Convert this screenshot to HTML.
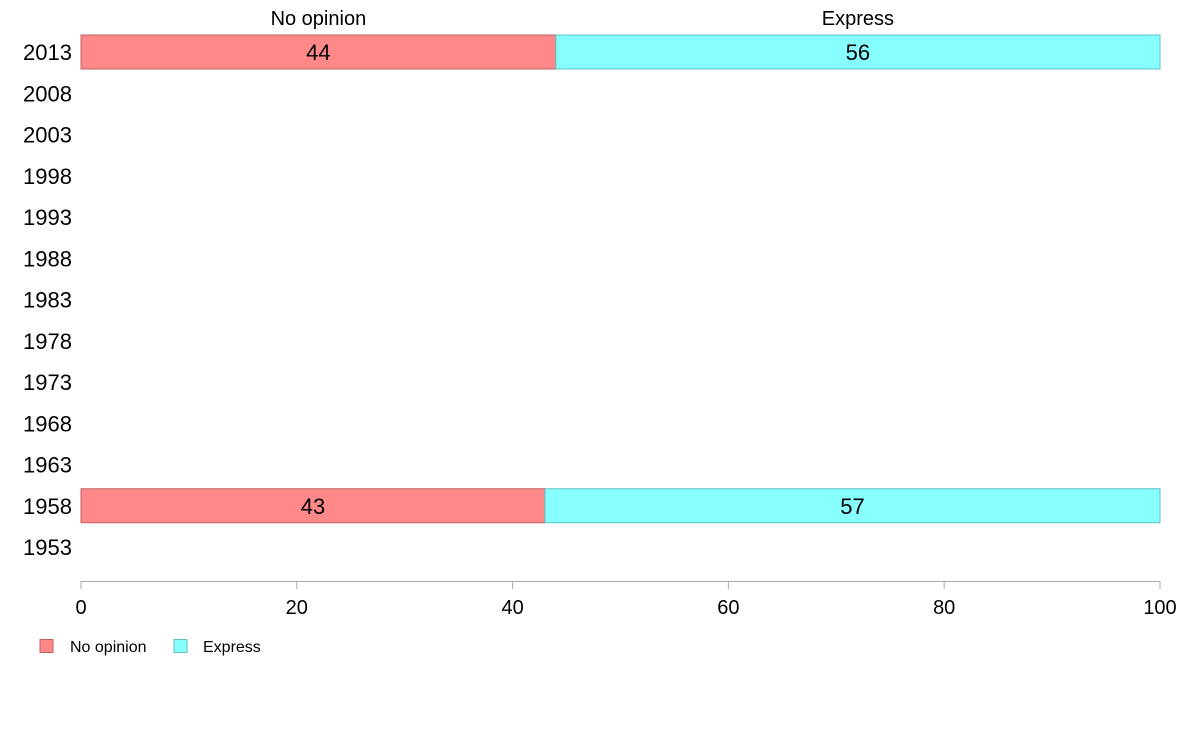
<!DOCTYPE html>
<html><head><meta charset="utf-8"><style>
body{margin:0;background:#fff;font-family:"Liberation Sans",Arial,sans-serif}
</style></head><body>
<svg id="chart" width="1188" height="736" xmlns="http://www.w3.org/2000/svg" font-family="Liberation Sans, Arial, sans-serif"></svg>
<script>
const years=[2013,2008,2003,1998,1993,1988,1983,1978,1973,1968,1963,1958,1953];
const noOpinion=[44,null,null,null,null,null,null,null,null,null,null,43,null];
const express=[56,null,null,null,null,null,null,null,null,null,null,57,null];
const seriesNames=["No opinion","Express"];
const xTicks=[0,20,40,60,80,100];
const colors=["#FF8888","#88FFFF"],strokes=["#c06060","#60c0c0"];
const svg=document.getElementById('chart');
const NS='http://www.w3.org/2000/svg';
const x=v=>81+v*(1160-81)/100;
const y=i=>52+i*(547-52)/(years.length-1);
function mk(tag,attrs,text){const e=document.createElementNS(NS,tag);for(const k in attrs)e.setAttribute(k,attrs[k]);if(text!=null)e.textContent=text;svg.appendChild(e);return e;}
years.forEach((yr,i)=>{
  const t=mk('text',{x:72,y:y(i)+8,'text-anchor':'end','font-size':22,fill:'#000'},yr);
  
  
  if(noOpinion[i]==null)return;
  const vals=[noOpinion[i],express[i]];let acc=0;
  vals.forEach((v,s)=>{
    const r=mk('rect',{x:x(acc),y:y(i)-17,width:x(acc+v)-x(acc),height:34,fill:colors[s],stroke:strokes[s],'stroke-width':1});
    
    
    const l=mk('text',{x:(x(acc)+x(acc+v))/2,y:y(i)+8,'text-anchor':'middle','font-size':22,fill:'#000'},v);
    
    
    if(i===0){
      const h=mk('text',{x:(x(acc)+x(acc+v))/2,y:25,'text-anchor':'middle','font-size':20,fill:'#000'},seriesNames[s]);
      
      
    }
    acc+=v;
  });
});
const ax=mk('line',{x1:x(0),x2:x(100),y1:581.5,y2:581.5,stroke:'#aaa','stroke-width':1});


xTicks.forEach(v=>{
  const tk=mk('line',{x1:x(v),x2:x(v),y1:581,y2:589,stroke:'#aaa','stroke-width':1});
  
  
  const tl=mk('text',{x:x(v),y:614,'text-anchor':'middle','font-size':20,fill:'#000'},v);
  
  
});
const lg=[[40,70,"No opinion"],[174,203,"Express"]];
lg.forEach((d,s)=>{
  const r=mk('rect',{x:d[0],y:639.5,width:13,height:13,fill:colors[s],stroke:strokes[s],'stroke-width':1});
  
  
  const t=mk('text',{x:d[1],y:652,'font-size':16,fill:'#000'},d[2]);
  
  
});
</script>
</body></html>
